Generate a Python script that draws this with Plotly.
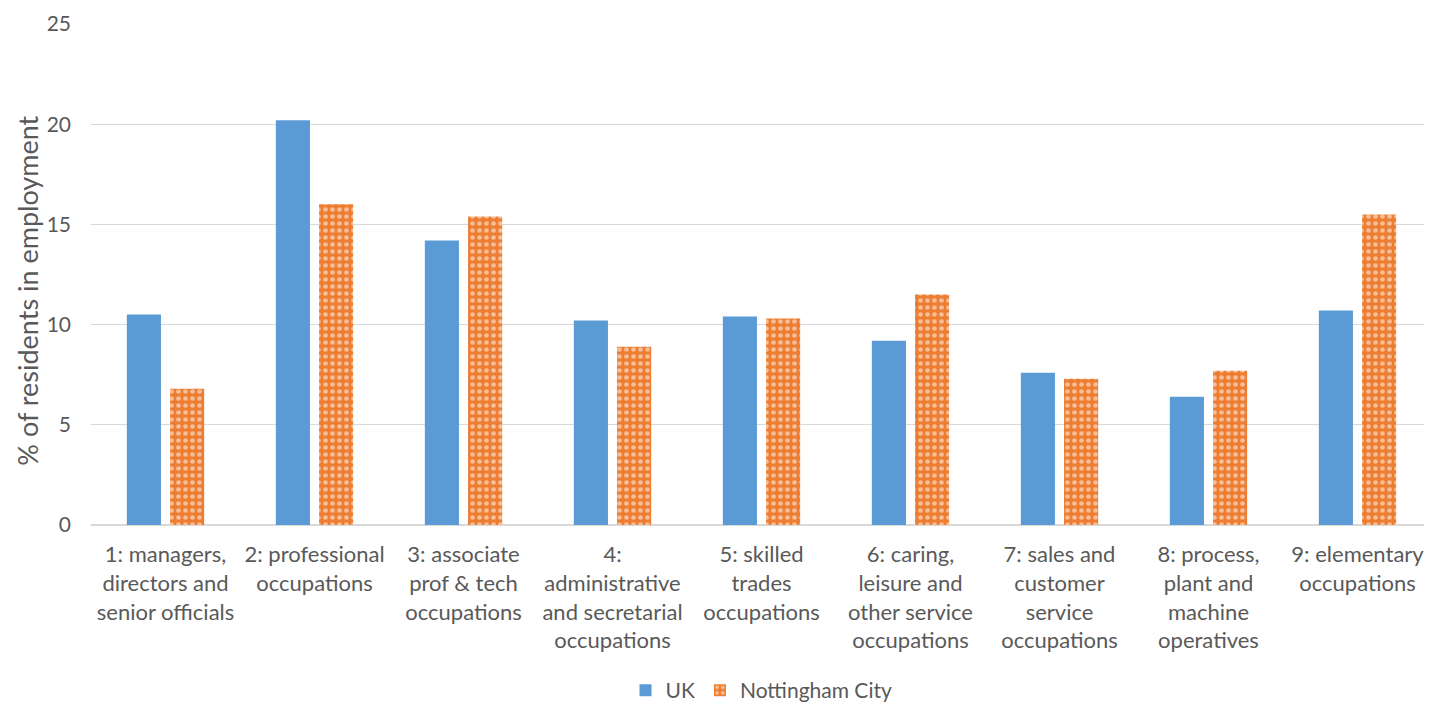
import plotly.graph_objects as go

categories = [
    "1: managers,<br>directors and<br>senior officials",
    "2: professional<br>occupations",
    "3: associate<br>prof & tech<br>occupations",
    "4:<br>administrative<br>and secretarial<br>occupations",
    "5: skilled<br>trades<br>occupations",
    "6: caring,<br>leisure and<br>other service<br>occupations",
    "7: sales and<br>customer<br>service<br>occupations",
    "8: process,<br>plant and<br>machine<br>operatives",
    "9: elementary<br>occupations",
]
uk = [10.5, 20.2, 14.2, 10.2, 10.4, 9.2, 7.6, 6.4, 10.7]
nottingham = [6.8, 16.0, 15.4, 8.9, 10.3, 11.5, 7.3, 7.7, 15.5]
y_title = "% of residents in employment"

font_family = "Lato, 'Open Sans', sans-serif"
text_color = "#595959"

fig = go.Figure()
fig.add_trace(go.Bar(
    x=categories, y=uk, name="UK",
    marker=dict(color="#5B9BD5", line=dict(width=0)),
))
fig.add_trace(go.Bar(
    x=categories, y=nottingham, name="Nottingham City",
    marker=dict(
        color="#ED7D31", line=dict(width=0),
        pattern=dict(shape=".", fgcolor="white", bgcolor="#ED7D31",
                     size=7, solidity=0.35, fillmode="overlay"),
    ),
))

# page body has an 8px margin, so the figure is drawn at (8, 8)
fig.update_layout(
    width=1424, height=700,
    barmode="group", bargap=0.42, bargroupgap=0.21,
    paper_bgcolor="white", plot_bgcolor="white",
    margin=dict(l=83, r=0, t=16, b=183),
    font=dict(family=font_family, size=22, color=text_color),
    legend=dict(orientation="h", x=0.5, xanchor="center",
                yref="container", y=0.025, yanchor="middle",
                bgcolor="rgba(0,0,0,0)",
                font=dict(size=21, color=text_color), itemsizing="constant",
                itemwidth=30),
    xaxis=dict(showgrid=False, showline=True, linecolor="#D9D9D9", linewidth=1,
               ticks="", automargin=False, ticklabelstandoff=10,
               tickfont=dict(size=22, color=text_color)),
    yaxis=dict(range=[0, 25], dtick=5, showgrid=True, gridcolor="#D9D9D9",
               gridwidth=1, zeroline=True, zerolinecolor="#D9D9D9",
               ticks="", ticklabelstandoff=19, automargin=False,
               tickfont=dict(size=21, color=text_color)),
    annotations=[dict(text=y_title, textangle=-90, showarrow=False,
                      xref="paper", x=-0.048, xanchor="center",
                      yref="paper", y=0.467, yanchor="middle",
                      font=dict(size=27, color=text_color))],
)

fig.write_html("out.html")
